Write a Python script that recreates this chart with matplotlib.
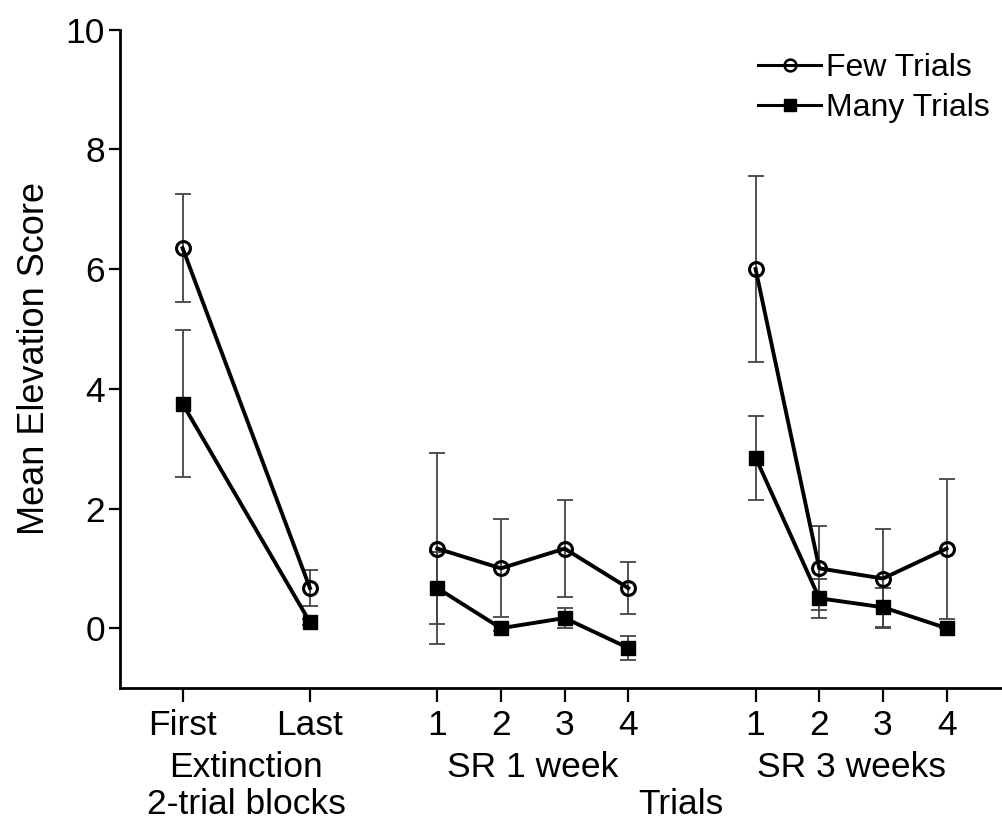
import matplotlib
matplotlib.use("Agg")
import matplotlib.pyplot as plt
from matplotlib.lines import Line2D

plt.rcParams['font.family'] = ['Liberation Sans', 'DejaVu Sans']

# phases and trial labels
phase_labels = ["Extinction", "SR 1 week", "SR 3 weeks"]
ext_labels = ["First", "Last"]
trial_labels = ["1", "2", "3", "4"]

# Few Trials group
few_ext = [6.35, 0.67]
few_ext_err = [0.9, 0.3]
few_sr1 = [1.33, 1.0, 1.33, 0.67]
few_sr1_err = [1.6, 0.82, 0.81, 0.43]
few_sr3 = [6.0, 1.0, 0.83, 1.33]
few_sr3_err = [1.55, 0.7, 0.83, 1.17]

# Many Trials group
many_ext = [3.75, 0.1]
many_ext_err = [1.23, 0.05]
many_sr1 = [0.67, 0.0, 0.17, -0.33]
many_sr1_err = [0.6, 0.05, 0.17, 0.2]
many_sr3 = [2.85, 0.5, 0.35, 0.0]
many_sr3_err = [0.7, 0.33, 0.33, 0.0]

ext_x = [1, 3]
sr1_x = [5, 6, 7, 8]
sr3_x = [10, 11, 12, 13]

fig = plt.figure(figsize=(10.02, 8.25), dpi=100)
ax = fig.add_axes([0.12, 0.166, 0.88, 0.798])

groups = [
    (ext_x, few_ext, few_ext_err, many_ext, many_ext_err),
    (sr1_x, few_sr1, few_sr1_err, many_sr1, many_sr1_err),
    (sr3_x, few_sr3, few_sr3_err, many_sr3, many_sr3_err),
]

for xs, fy, fe, my, me in groups:
    ax.errorbar(xs, fy, yerr=fe, fmt='none', ecolor='#444444',
                elinewidth=1.3, capsize=6, capthick=1.3, zorder=2)
    ax.errorbar(xs, my, yerr=me, fmt='none', ecolor='#444444',
                elinewidth=1.3, capsize=6, capthick=1.3, zorder=2)
    ax.plot(xs, fy, color='black', lw=2.8, marker='o', ms=10,
            mfc='none', mec='black', mew=2.2, zorder=3)
    ax.plot(xs, my, color='black', lw=2.8, marker='s', ms=10.5,
            mfc='black', mec='black', zorder=3)

ax.set_xlim(0.02, 13.87)
ax.set_ylim(-1, 10)
ax.set_yticks([0, 2, 4, 6, 8, 10])
ax.set_xticks(ext_x + sr1_x + sr3_x)
ax.set_xticklabels(ext_labels + trial_labels + trial_labels)

for s in ['top', 'right']:
    ax.spines[s].set_visible(False)
for s in ['left', 'bottom']:
    ax.spines[s].set_linewidth(2)

ax.tick_params(axis='both', labelsize=25.5, width=1.6)
ax.tick_params(axis='x', length=10, pad=5)
ax.tick_params(axis='y', length=8, pad=3)

ax.set_ylabel("Mean Elevation Score", fontsize=26, labelpad=10)

phase_centers = [2, 6.5, 11.5]
for xc, lab in zip(phase_centers, phase_labels):
    ax.text(xc, -2.33, lab, fontsize=25.5, ha='center', va='center', clip_on=False)
ax.text(2, -2.95, "2-trial blocks", fontsize=25.5, ha='center', va='center', clip_on=False)
ax.text(8.83, -2.95, "Trials", fontsize=25.5, ha='center', va='center', clip_on=False)

handles = [
    Line2D([], [], color='black', lw=2.2, marker='o', ms=8.5, mfc='none', mew=1.8),
    Line2D([], [], color='black', lw=2.2, marker='s', ms=8.5, mfc='black'),
]
ax.legend(handles, ["Few Trials", "Many Trials"], loc='upper right',
          bbox_to_anchor=(1.019, 1.008), frameon=False, fontsize=23,
          handlelength=2.0, handletextpad=0.15, labelspacing=0.32)

fig.savefig("out.png", dpi=100)
